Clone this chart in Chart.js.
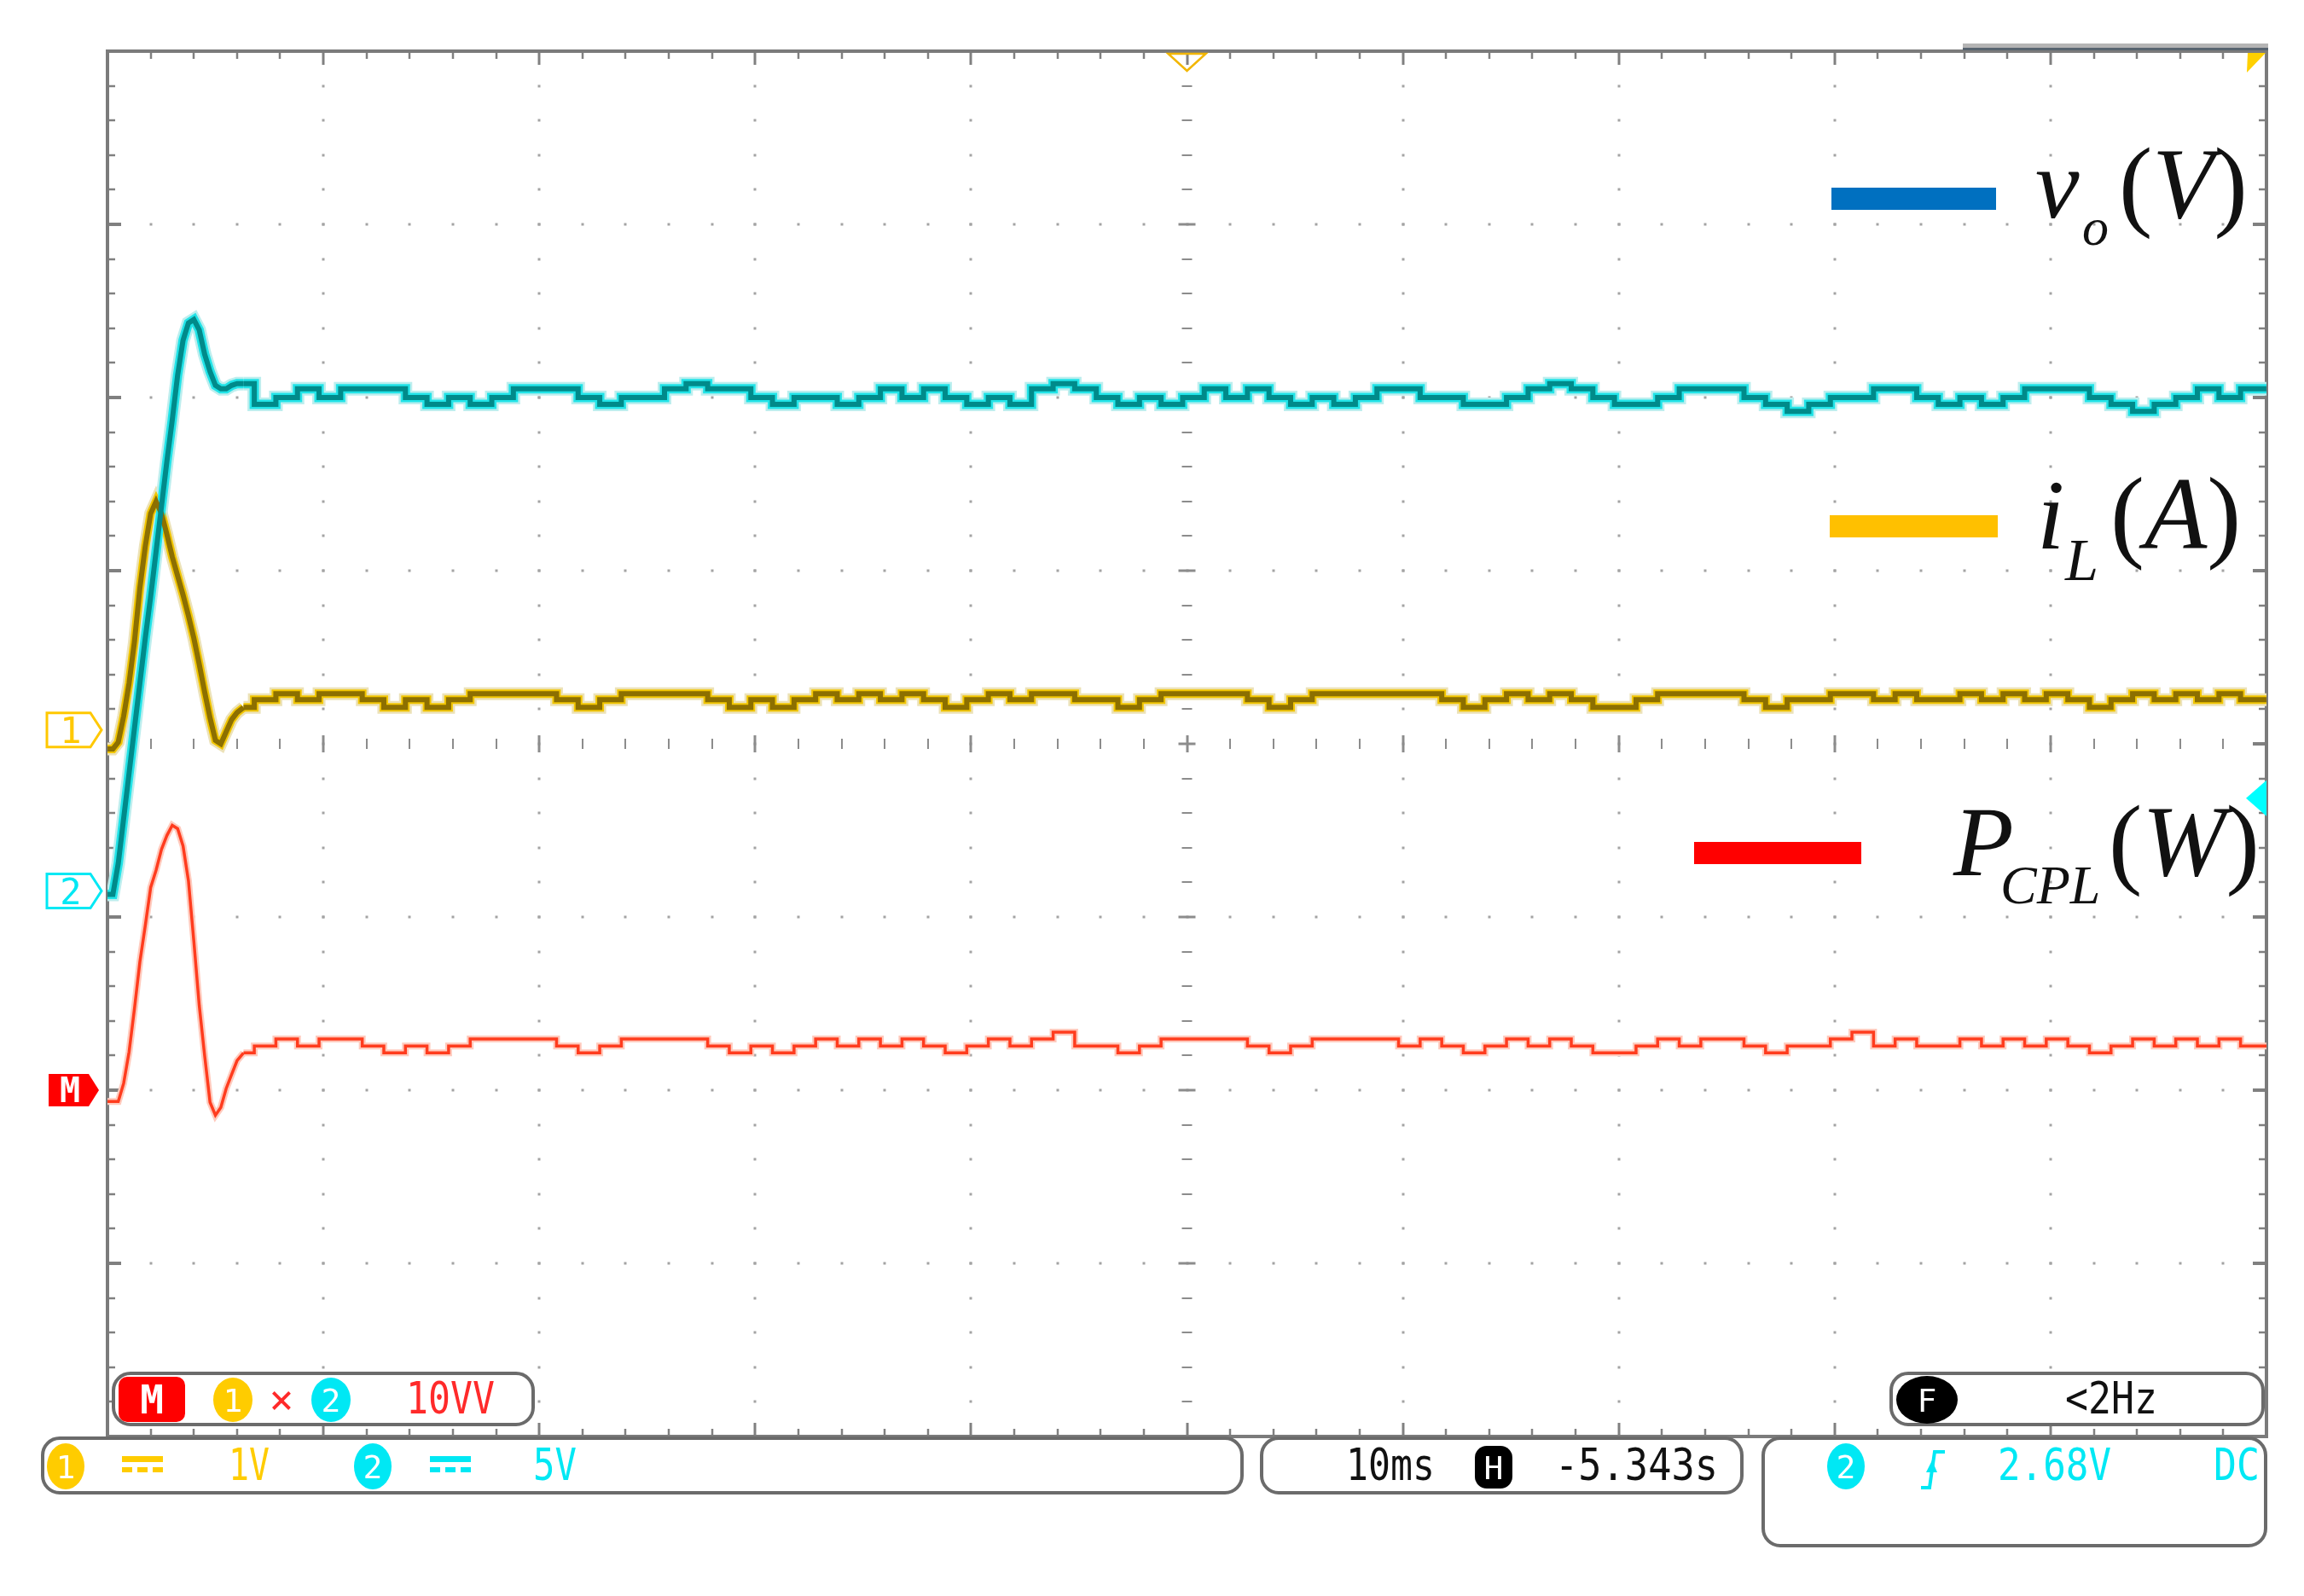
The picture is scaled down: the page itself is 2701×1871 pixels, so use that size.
<!DOCTYPE html>
<html>
<head>
<meta charset="utf-8">
<script src="https://cdn.jsdelivr.net/npm/chart.js@4.4.0/dist/chart.umd.min.js"></script>
<style>
html,body{margin:0;padding:0;background:#ffffff;overflow:hidden}
#wrap{position:relative;width:2701px;height:1871px}
#c{position:absolute;left:0;top:0}
#ov{position:absolute;left:0;top:0;pointer-events:none}
.scope{font-family:'DejaVu Sans Mono','Liberation Mono',monospace}
.math{font-family:'Liberation Serif','DejaVu Serif',serif}
</style>
</head>
<body>
<div id="wrap">
<canvas id="c" width="2701" height="1871"></canvas>
<svg id="ov" width="2701" height="1871" xmlns="http://www.w3.org/2000/svg">
  <!-- legend -->
  <g class="math" fill="#111">
    <rect x="2147" y="220" width="193" height="26" fill="#0070c0"/>
    <text x="2386" y="255" font-size="116" font-style="italic">v</text>
    <text x="2441" y="287" font-size="62" font-style="italic">o</text>
    <text x="2484" y="255" font-size="118">(<tspan font-style="italic">V</tspan>)</text>

    <rect x="2145" y="604" width="197" height="26" fill="#ffc000"/>
    <text x="2388" y="643" font-size="116" font-style="italic">i</text>
    <text x="2421" y="680" font-size="70" font-style="italic">L</text>
    <text x="2474" y="643" font-size="120">(<tspan font-style="italic">A</tspan>)</text>

    <rect x="1986" y="987" width="196" height="26" fill="#ff0000"/>
    <text x="2290" y="1026" font-size="116" font-style="italic">P</text>
    <text x="2345" y="1059" font-size="64" font-style="italic">CPL</text>
    <text x="2472" y="1026" font-size="118">(<tspan font-style="italic">W</tspan>)</text>
  </g>

  <!-- status boxes -->
  <g class="scope">
    <rect x="133" y="1610" width="492" height="60" rx="20" fill="#fff" stroke="#6b6b6b" stroke-width="4"/>
    <rect x="139" y="1614" width="78" height="53" rx="10" fill="#ff0000"/>
    <text x="178" y="1657" font-size="46" fill="#fff" text-anchor="middle" font-weight="bold">M</text>
    <ellipse cx="273" cy="1641" rx="23" ry="26" fill="#ffcc00"/>
    <text x="273" y="1655" font-size="38" fill="#fff" text-anchor="middle">1</text>
    <text x="330" y="1657" font-size="48" fill="#ff2a2a" text-anchor="middle">×</text>
    <ellipse cx="388" cy="1641" rx="23" ry="26" fill="#00e8f4"/>
    <text x="388" y="1655" font-size="38" fill="#fff" text-anchor="middle">2</text>
    <text x="476" y="1657" font-size="51" fill="#ff2a2a" textLength="104" lengthAdjust="spacingAndGlyphs">10VV</text>

    <rect x="50" y="1686" width="1406" height="64" rx="20" fill="#fff" stroke="#6b6b6b" stroke-width="4"/>
    <ellipse cx="77" cy="1719" rx="22" ry="27" fill="#ffcc00"/>
    <text x="77" y="1733" font-size="38" fill="#fff" text-anchor="middle">1</text>
    <rect x="143" y="1707" width="48" height="7" fill="#ffcc00"/>
    <rect x="143" y="1720" width="12" height="6" fill="#ffcc00"/>
    <rect x="161" y="1720" width="12" height="6" fill="#ffcc00"/>
    <rect x="179" y="1720" width="12" height="6" fill="#ffcc00"/>
    <text x="268" y="1735" font-size="51" fill="#ffcc00" textLength="48" lengthAdjust="spacingAndGlyphs">1V</text>
    <ellipse cx="437" cy="1719" rx="22" ry="27" fill="#00e8f4"/>
    <text x="437" y="1733" font-size="38" fill="#fff" text-anchor="middle">2</text>
    <rect x="504" y="1707" width="48" height="7" fill="#00e8f4"/>
    <rect x="504" y="1720" width="12" height="6" fill="#00e8f4"/>
    <rect x="522" y="1720" width="12" height="6" fill="#00e8f4"/>
    <rect x="540" y="1720" width="12" height="6" fill="#00e8f4"/>
    <text x="625" y="1735" font-size="51" fill="#00e8f4" textLength="51" lengthAdjust="spacingAndGlyphs">5V</text>

    <rect x="1479" y="1686" width="563" height="64" rx="20" fill="#fff" stroke="#6b6b6b" stroke-width="4"/>
    <text x="1578" y="1735" font-size="51" fill="#111" textLength="104" lengthAdjust="spacingAndGlyphs">10ms</text>
    <rect x="1729" y="1695" width="44" height="50" rx="14" fill="#000"/>
    <text x="1751" y="1734" font-size="38" fill="#fff" text-anchor="middle">H</text>
    <text x="1823" y="1735" font-size="51" fill="#111" textLength="191" lengthAdjust="spacingAndGlyphs">-5.343s</text>

    <rect x="2067" y="1686" width="589" height="126" rx="20" fill="#fff" stroke="#6b6b6b" stroke-width="4"/>
    <ellipse cx="2164" cy="1719" rx="22" ry="27" fill="#00e8f4"/>
    <text x="2164" y="1733" font-size="38" fill="#fff" text-anchor="middle">2</text>
    <polyline points="2252,1744 2262,1744 2268,1702 2280,1702" fill="none" stroke="#00e8f4" stroke-width="4"/>
    <polygon points="2258,1726 2265,1712 2271,1726" fill="#00e8f4"/>
    <text x="2342" y="1735" font-size="51" fill="#00e8f4" textLength="133" lengthAdjust="spacingAndGlyphs">2.68V</text>
    <text x="2595" y="1735" font-size="51" fill="#00e8f4" textLength="54" lengthAdjust="spacingAndGlyphs">DC</text>

    <rect x="2217" y="1610" width="436" height="60" rx="20" fill="#fff" stroke="#6b6b6b" stroke-width="4"/>
    <ellipse cx="2259" cy="1641" rx="36" ry="28" fill="#000"/>
    <text x="2259" y="1655" font-size="38" fill="#fff" text-anchor="middle">F</text>
    <text x="2421" y="1657" font-size="51" fill="#111" textLength="108" lengthAdjust="spacingAndGlyphs">&lt;2Hz</text>
  </g>
  <g id="markers" class="scope"></g>
</svg>
</div>
<script>
// ---------------- data ----------------
// time axis: 10 ms/div, 10 divisions
const timeMs = [0,0.25,0.5,0.75,1,1.25,1.5,1.75,2,2.25,2.5,2.75,3,3.25,3.5,3.75,4,4.25,4.5,4.75,5,5.25,5.5,5.75,6,
  6.3,7.3,8.3,9.3,10.3,11.3,12.3,13.3,14.3,15.3,16.3,17.3,18.3,19.3,20.3,21.3,22.3,23.3,24.3,25.3,26.3,27.3,28.3,29.3,
  30.3,31.3,32.3,33.3,34.3,35.3,36.3,37.3,38.3,39.3,40.3,41.3,42.3,43.3,44.3,45.3,46.3,47.3,48.3,49.3,
  50.3,51.3,52.3,53.3,54.3,55.3,56.3,57.3,58.3,59.3,60.3,61.3,62.3,63.3,64.3,65.3,66.3,67.3,68.3,69.3,
  70.3,71.3,72.3,73.3,74.3,75.3,76.3,77.3,78.3,79.3,80.3,81.3,82.3,83.3,84.3,85.3,86.3,87.3,88.3,89.3,
  90.3,91.3,92.3,93.3,94.3,95.3,96.3,97.3,98.3,99.3,100];

// channel 2: output voltage v_o (V)
const voltageV = [-0.1,-0.1,0.8,2.1,3.4,4.7,6.0,7.3,8.5,9.8,11.1,12.4,13.6,14.9,15.9,16.4,16.5,16.2,15.5,15.0,14.6,14.5,14.5,14.6,14.65,
  14.65,14.05,14.25,14.5,14.25,14.5,14.5,14.5,14.25,14.05,14.25,14.05,14.25,14.5,14.5,14.5,14.25,14.05,14.25,14.25,14.5,14.65,14.5,14.5,
  14.25,14.05,14.25,14.25,14.05,14.25,14.5,14.25,14.5,14.25,14.05,14.25,14.05,14.5,14.65,14.5,14.25,14.05,14.25,14.05,
  14.25,14.5,14.25,14.5,14.25,14.05,14.25,14.05,14.25,14.5,14.5,14.25,14.25,14.05,14.05,14.25,14.5,14.65,14.5,14.25,
  14.05,14.05,14.25,14.5,14.5,14.5,14.25,14.05,13.85,14.05,14.25,14.25,14.5,14.5,14.25,14.05,14.25,14.05,14.25,14.5,
  14.5,14.5,14.25,14.05,13.85,14.05,14.25,14.5,14.25,14.5,14.5];

// channel 1: inductor current i_L (A)
const currentA = [-0.11,-0.11,-0.07,0.08,0.27,0.51,0.82,1.06,1.25,1.32,1.25,1.13,1.0,0.89,0.78,0.66,0.53,0.38,0.22,0.07,-0.06,-0.08,-0.01,0.06,0.1,
  0.13,0.175,0.21,0.175,0.21,0.21,0.175,0.13,0.175,0.13,0.175,0.21,0.21,0.21,0.21,0.175,0.13,0.175,0.21,0.21,0.21,0.21,0.175,0.13,
  0.175,0.13,0.175,0.21,0.175,0.21,0.175,0.21,0.175,0.13,0.175,0.21,0.175,0.21,0.21,0.175,0.175,0.13,0.175,0.21,
  0.21,0.21,0.21,0.175,0.13,0.175,0.21,0.21,0.21,0.21,0.21,0.21,0.175,0.13,0.175,0.21,0.175,0.21,0.175,0.13,
  0.13,0.175,0.21,0.21,0.21,0.21,0.175,0.13,0.175,0.175,0.21,0.21,0.175,0.21,0.175,0.175,0.21,0.175,0.21,0.175,
  0.21,0.175,0.13,0.175,0.21,0.175,0.21,0.175,0.21,0.175,0.175];

// math channel: CPL power P_CPL (W)
const powerW = [-0.65,-0.65,-0.65,0.4,2.2,4.7,7.4,9.5,11.7,12.7,13.9,14.7,15.3,15.1,14.1,12.1,8.6,4.9,2.0,-0.7,-1.45,-1.0,0.1,0.9,1.7,
  2.15,2.55,2.95,2.55,2.95,2.95,2.55,2.15,2.55,2.15,2.55,2.95,2.95,2.95,2.95,2.55,2.15,2.55,2.95,2.95,2.95,2.95,2.55,2.15,
  2.55,2.15,2.55,2.95,2.55,2.95,2.55,2.95,2.55,2.15,2.55,2.95,2.55,2.95,3.35,2.55,2.55,2.15,2.55,2.95,
  2.95,2.95,2.95,2.55,2.15,2.55,2.95,2.95,2.95,2.95,2.55,2.95,2.55,2.15,2.55,2.95,2.55,2.95,2.55,2.15,
  2.15,2.55,2.95,2.55,2.95,2.95,2.55,2.15,2.55,2.55,2.95,3.35,2.55,2.95,2.55,2.55,2.95,2.55,2.95,2.55,
  2.95,2.55,2.15,2.55,2.95,2.55,2.95,2.55,2.95,2.55,2.55];

// scope settings (from the status bar)
const MS_PER_DIV = 10, H_DIVS = 10, V_DIVS = 8;
const CH1 = {perDiv: 1,  zeroDiv: 0.08};   // 1 V(A)/div
const CH2 = {perDiv: 5,  zeroDiv: -0.85};  // 5 V/div
const MATH = {perDiv: 10, zeroDiv: -2.0};  // 10 VV/div
const TRIG_LEVEL_V = 2.68;
const STEADY_FROM = 25;   // index where the sampled staircase part begins

// ---------------- chart ----------------
function axisFor(ch){
  return {type:'linear', display:false, min:(-V_DIVS/2 - ch.zeroDiv)*ch.perDiv, max:(V_DIVS/2 - ch.zeroDiv)*ch.perDiv};
}
function pts(vals, from, to){
  const out = [];
  for (let i = from; i <= to; i++) out.push({x: timeMs[i], y: vals[i]});
  return out;
}
function layers(vals, axis, styles, baseOrder){
  const ds = [];
  const last = timeMs.length - 1;
  styles.forEach((s) => {
    [[0, STEADY_FROM, false], [STEADY_FROM, last, 'middle']].forEach(([a, b, st]) => {
      ds.push({data: pts(vals, a, b), yAxisID: axis, stepped: st, borderColor: s.c, borderWidth: s.w,
        pointRadius: 0, tension: 0, fill: false, borderJoinStyle: 'miter', borderCapStyle: 'butt',
        order: baseOrder + s.o});
    });
  });
  return ds;
}
const datasets = [].concat(
  layers(voltageV, 'yV', [{c:'#bdeeee', w:16, o:30}, {c:'#22e4e8', w:11, o:20}, {c:'#008a8a', w:6, o:10}], 1),
  layers(currentA, 'yI', [{c:'#ece2b8', w:15, o:30}, {c:'#f2c600', w:10, o:20}, {c:'#8c6f00', w:6, o:10}], 2),
  layers(powerW,  'yP', [{c:'#ffcabd', w:8, o:30}, {c:'#ff3c1e', w:3.5, o:10}], 3)
);

const gridPlugin = {
  id: 'scopeGrid',
  beforeDatasetsDraw(chart){
    const {ctx, chartArea: a, scales} = chart;
    const xs = scales.x, yd = scales.yDiv;
    const cx = xs.getPixelForValue(MS_PER_DIV * H_DIVS / 2), cy = yd.getPixelForValue(0);
    ctx.save();
    // dotted major graticule
    ctx.fillStyle = '#a3a3a3';
    for (let i = 1; i < H_DIVS; i++){
      if (i === H_DIVS/2) continue;
      const x = Math.round(xs.getPixelForValue(i*MS_PER_DIV));
      for (let j = 1; j < V_DIVS*5; j++){
        const y = Math.round(yd.getPixelForValue(-V_DIVS/2 + j/5));
        ctx.fillRect(x-1.5, y-1.5, 3, 3);
      }
    }
    for (let j = 1; j < V_DIVS; j++){
      if (j === V_DIVS/2) continue;
      const y = Math.round(yd.getPixelForValue(-V_DIVS/2 + j));
      for (let i = 1; i < H_DIVS*5; i++){
        const x = Math.round(xs.getPixelForValue(i*MS_PER_DIV/5));
        ctx.fillRect(x-1.5, y-1.5, 3, 3);
      }
    }
    // centre axes ticks
    ctx.strokeStyle = '#8c8c8c';
    for (let i = 1; i < H_DIVS*5; i++){
      const x = Math.round(xs.getPixelForValue(i*MS_PER_DIV/5));
      const major = i % 5 === 0;
      ctx.lineWidth = major ? 3 : 2;
      const l = major ? 10 : 6;
      ctx.beginPath(); ctx.moveTo(x, cy-l); ctx.lineTo(x, cy+l); ctx.stroke();
    }
    for (let j = 1; j < V_DIVS*5; j++){
      const y = Math.round(yd.getPixelForValue(-V_DIVS/2 + j/5));
      const major = j % 5 === 0;
      ctx.lineWidth = major ? 3 : 2;
      const l = major ? 10 : 6;
      ctx.beginPath(); ctx.moveTo(cx-l, y); ctx.lineTo(cx+l, y); ctx.stroke();
    }
    // edge ticks
    ctx.strokeStyle = '#808080';
    for (let i = 1; i < H_DIVS*5; i++){
      const x = Math.round(xs.getPixelForValue(i*MS_PER_DIV/5));
      const major = i % 5 === 0;
      ctx.lineWidth = major ? 3 : 2.5;
      const l = major ? 16 : 9;
      ctx.beginPath(); ctx.moveTo(x, a.top); ctx.lineTo(x, a.top+l); ctx.stroke();
      ctx.beginPath(); ctx.moveTo(x, a.bottom); ctx.lineTo(x, a.bottom-l); ctx.stroke();
    }
    for (let j = 1; j < V_DIVS*5; j++){
      const y = Math.round(yd.getPixelForValue(-V_DIVS/2 + j/5));
      const major = j % 5 === 0;
      ctx.lineWidth = major ? 4 : 2.5;
      const l = major ? 16 : 9;
      ctx.beginPath(); ctx.moveTo(a.left, y); ctx.lineTo(a.left+l, y); ctx.stroke();
      ctx.beginPath(); ctx.moveTo(a.right, y); ctx.lineTo(a.right-l, y); ctx.stroke();
    }
    // frame
    ctx.strokeStyle = '#7b7b7b'; ctx.lineWidth = 4;
    ctx.strokeRect(a.left, a.top, a.right - a.left, a.bottom - a.top);
    ctx.restore();
  }
};

const chart = new Chart(document.getElementById('c'), {
  type: 'line',
  data: {datasets},
  options: {
    responsive: false, animation: false, devicePixelRatio: 1,
    layout: {padding: {left: 126, top: 60, right: 44, bottom: 187}},
    plugins: {legend: {display: false}, tooltip: {enabled: false}},
    events: [],
    scales: {
      x: {type: 'linear', display: false, min: 0, max: MS_PER_DIV*H_DIVS},
      yDiv: {type: 'linear', display: false, min: -V_DIVS/2, max: V_DIVS/2},
      yV: axisFor(CH2),
      yI: axisFor(CH1),
      yP: axisFor(MATH)
    }
  },
  plugins: [gridPlugin]
});

// ---------------- scope markers placed from the scales ----------------
const NS = 'http://www.w3.org/2000/svg';
const mg = document.getElementById('markers');
function el(tag, attrs, txt){
  const e = document.createElementNS(NS, tag);
  for (const k in attrs) e.setAttribute(k, attrs[k]);
  if (txt !== undefined) e.textContent = txt;
  mg.appendChild(e);
  return e;
}
const ca = chart.chartArea;
const y1 = chart.scales.yI.getPixelForValue(0);
const y2 = chart.scales.yV.getPixelForValue(0);
const yM = chart.scales.yP.getPixelForValue(0);
el('polygon', {points: `55,${y1-20} 106,${y1-20} 119,${y1} 106,${y1+20} 55,${y1+20}`, fill:'#fff', stroke:'#ffc800', 'stroke-width':3});
el('text', {x:83, y:y1+15, 'font-size':42, fill:'#ffc800', 'text-anchor':'middle'}, '1');
el('polygon', {points: `55,${y2-20} 106,${y2-20} 119,${y2} 106,${y2+20} 55,${y2+20}`, fill:'#fff', stroke:'#00e8f4', 'stroke-width':3});
el('text', {x:83, y:y2+15, 'font-size':42, fill:'#00e8f4', 'text-anchor':'middle'}, '2');
el('polygon', {points: `57,${yM-19} 104,${yM-19} 116,${yM} 104,${yM+19} 57,${yM+19}`, fill:'#ff0000'});
el('text', {x:82, y:yM+14, 'font-size':40, fill:'#fff', 'text-anchor':'middle', 'font-weight':'bold'}, 'M');
// trigger level (ch2) on right edge
const yT = chart.scales.yV.getPixelForValue(TRIG_LEVEL_V);
el('polygon', {points: `${ca.right-24},${yT} ${ca.right},${yT-21} ${ca.right},${yT+21}`, fill:'#00ffff'});
// trigger position on top
const xT = chart.scales.x.getPixelForValue(MS_PER_DIV*H_DIVS/2);
el('polygon', {points: `${xT-22},${ca.top+3} ${xT+22},${ca.top+3} ${xT},${ca.top+23}`, fill:'none', stroke:'#f2b600', 'stroke-width':2.5});
// record view bar + corner marker
el('rect', {x: 2301, y: 51, width: ca.right-2299, height: 5, fill:'#b4b4b4'});
el('rect', {x: 2301, y: 56, width: ca.right-2299, height: 3, fill:'#56636f'});
el('polygon', {points: `${ca.right-22},${ca.top+2} ${ca.right-1},${ca.top+2} ${ca.right-23},${ca.top+25}`, fill:'#ffd000'});
</script>
</body>
</html>
